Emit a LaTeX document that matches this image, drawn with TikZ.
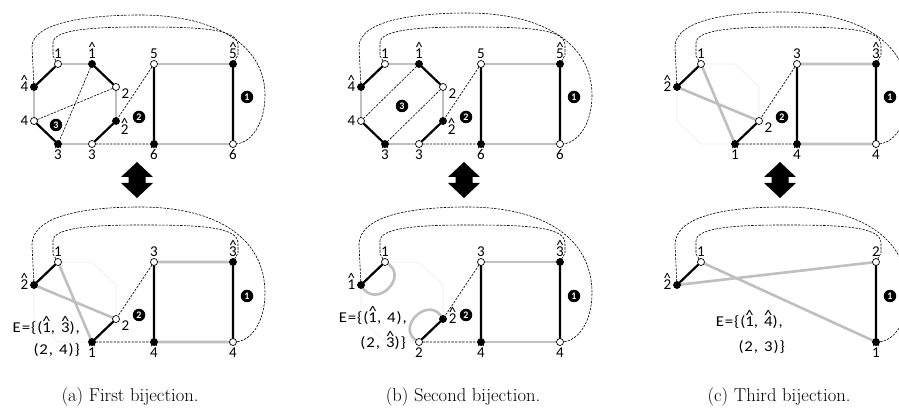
\documentclass[tikz,border=0pt]{standalone}
\usepackage{fontspec}
\newfontfamily\lbf{Carlito}
\newfontfamily\etf[LetterSpace=6,FakeStretch=1.12]{Carlito}
\newcommand\hd[1]{\ooalign{#1\cr\hidewidth\smash{\raisebox{0.4em}{\char"5E}}\hidewidth\cr}}
\newcommand\esp{\hspace{6pt}}
\pgfdeclarelayer{bg}
\pgfsetlayers{bg,main}
\tikzset{
  vtx/.style={circle, draw=black, line width=0.7pt, minimum size=7pt, inner sep=0pt},
  wv/.style={vtx, fill=white},
  bv/.style={vtx, fill=black},
  lab/.style={font=\lbf\fontsize{15}{15}\selectfont, inner sep=0.5pt},
  etxt/.style={font=\etf\fontsize{15}{15}\selectfont, inner sep=0pt},
  gedge/.style={draw=gray!50, line width=2.6pt},
  bedge/.style={draw=black, line width=2.2pt},
  dedge/.style={draw=black, line width=0.6pt, dash pattern=on 2.4pt off 1.2pt},
  ghostline/.style={draw=gray!15, line width=0.6pt},
  badge/.style={circle, fill=black, text=white, minimum size=12.5pt, inner sep=0pt, font=\lbf\bfseries\fontsize{10}{10}\selectfont},
  captxt/.style={font=\fontsize{18.6}{22}\selectfont, inner sep=0pt},
  every label/.style={lab},
  label distance=1.2pt
}
% dashed outer and inner loops, in the frame of panel (a)
\newcommand\dloops[5]{%
  \draw[dedge] (#1.center) -- (32,47) .. controls (32,{#5+7}) and (90,#5) .. (140,#5)
     .. controls (215,#5) and (265,{#5+30}) .. (265,95) .. controls (265,125) and (250,145) .. (#2.center);
  \draw[dedge] (#3.center) -- (53,56) -- (53,43) .. controls (53,30) and (90,27) .. (140,27)
     .. controls (195,27) and (238,28) .. (238,45) -- (238,55) -- (#4.center);
}
\newcommand\ghostoct{%
  \draw[ghostline] (58,64)--(92,64)--(116,87)--(116,121)--(92,144)--(58,144)--(34,121)--(34,87)--cycle;}
\newcommand\dblarrow[1]{%
  \fill[black] (#1,162) -- (#1+16,177) -- (#1+8.5,177) -- (#1+8.5,183) -- (#1+16,183) -- (#1,198)
     -- (#1-16,183) -- (#1-8.5,183) -- (#1-8.5,177) -- (#1-16,177) -- cycle;}
\begin{document}
\begin{tikzpicture}[x=1pt, y=-1pt]
\clip (0,0) rectangle (899,419);

% ---------------- top (a)
\begin{scope}
\node[wv,label={above:1}] (A1) at (58,64) {};
\node[bv,label={above:\hd{1}}] (A1h) at (92,64) {};
\node[wv,label={-15:2}] (A2) at (116,87) {};
\node[bv,label={-35:\hd{2}}] (A2h) at (116,121) {};
\node[wv,label={below:3}] (A3) at (92,144) {};
\node[bv,label={below:\hd{3}}] (A3h) at (58,144) {};
\node[wv,label={left:4}] (A4) at (34,121) {};
\node[bv,label={left:\hd{4}}] (A4h) at (34,87) {};
\node[wv,label={above:5}] (A5) at (154,64) {};
\node[bv,label={above:\hd{5}}] (A5h) at (233,64) {};
\node[bv,label={below:\hd{6}}] (A6h) at (154,144) {};
\node[wv,label={below:6}] (A6) at (233,144) {};
\node[badge] (Ab1) at (247,97) {1};
\node[badge] (Ab2) at (139,117) {2};
\node[badge] (Ab3) at (56,125) {3};
\begin{pgfonlayer}{bg}
\draw[gedge] (A1.center)--(A1h.center) (A2.center)--(A2h.center) (A3.center)--(A3h.center)
  (A4.center)--(A4h.center) (A5.center)--(A5h.center) (A6h.center)--(A6.center);
\draw[bedge] (A1.center)--(A4h.center) (A1h.center)--(A2.center) (A2h.center)--(A3.center)
  (A3h.center)--(A4.center) (A5.center)--(A6h.center) (A5h.center)--(A6.center);
\draw[dedge] (A1h.center)--(A3h.center) (A2.center)--(A4.center) (A5.center)--(A2h.center) (A3.center)--(A6h.center);
\dloops{A4h}{A6}{A1}{A5h}{15}
\end{pgfonlayer}
\end{scope}

% ---------------- top (b)
\begin{scope}[shift={(327,0)}]
\node[wv,label={above:1}] (B1) at (58,64) {};
\node[bv,label={above:\hd{1}}] (B1h) at (92,64) {};
\node[wv,label={-15:2}] (B2) at (116,87) {};
\node[bv,label={-35:\hd{2}}] (B2h) at (116,121) {};
\node[wv,label={below:3}] (B3) at (92,144) {};
\node[bv,label={below:\hd{3}}] (B3h) at (58,144) {};
\node[wv,label={left:4}] (B4) at (34,121) {};
\node[bv,label={left:\hd{4}}] (B4h) at (34,87) {};
\node[wv,label={above:5}] (B5) at (154,64) {};
\node[bv,label={above:\hd{5}}] (B5h) at (233,64) {};
\node[bv,label={below:\hd{6}}] (B6h) at (154,144) {};
\node[wv,label={below:6}] (B6) at (233,144) {};
\node[badge] (Bb1) at (247,97) {1};
\node[badge] (Bb2) at (139,117) {2};
\node[badge] (Bb3) at (75,106) {3};
\begin{pgfonlayer}{bg}
\draw[gedge] (B1.center)--(B1h.center) (B2.center)--(B2h.center) (B3.center)--(B3h.center)
  (B4.center)--(B4h.center) (B5.center)--(B5h.center) (B6h.center)--(B6.center);
\draw[bedge] (B1.center)--(B4h.center) (B1h.center)--(B2.center) (B2h.center)--(B3.center)
  (B3h.center)--(B4.center) (B5.center)--(B6h.center) (B5h.center)--(B6.center);
\draw[dedge] (B1h.center)--(B4.center) (B2.center)--(B3h.center) (B5.center)--(B2h.center) (B3.center)--(B6h.center);
\dloops{B4h}{B6}{B1}{B5h}{13}
\end{pgfonlayer}
\end{scope}

% ---------------- top (c)
\begin{scope}[shift={(643,0)}]
\node[wv,label={above:1}] (C1) at (58,64) {};
\node[bv,label={left:\hd{2}}] (C2h) at (34,87) {};
\node[wv,label={-15:2}] (C2) at (116,121) {};
\node[bv,label={below:\hd{1}}] (C1h) at (92,144) {};
\node[wv,label={above:3}] (C3) at (154,64) {};
\node[bv,label={above:\hd{3}}] (C3h) at (233,64) {};
\node[bv,label={below:\hd{4}}] (C4h) at (154,144) {};
\node[wv,label={below:4}] (C4) at (233,144) {};
\node[badge] (Cb1) at (247,97) {1};
\node[badge] (Cb2) at (139,117) {2};
\begin{pgfonlayer}{bg}
\ghostoct
\draw[gedge] (C1.center)--(C1h.center) (C2h.center)--(C2.center) (C3.center)--(C3h.center) (C4h.center)--(C4.center);
\draw[bedge] (C1.center)--(C2h.center) (C2.center)--(C1h.center) (C3.center)--(C4h.center) (C3h.center)--(C4.center);
\draw[dedge] (C3.center)--(C2.center) (C1h.center)--(C4h.center);
\dloops{C2h}{C4}{C1}{C3h}{12}
\end{pgfonlayer}
\end{scope}

% ---------------- bottom (a)
\begin{scope}[shift={(0,198)}]
\node[wv,label={above:1}] (D1) at (58,64) {};
\node[bv,label={left:\hd{2}}] (D2h) at (34,87) {};
\node[wv,label={-15:2}] (D2) at (116,121) {};
\node[bv,label={below:\hd{1}}] (D1h) at (92,144) {};
\node[wv,label={above:3}] (D3) at (154,64) {};
\node[bv,label={above:\hd{3}}] (D3h) at (233,64) {};
\node[bv,label={below:\hd{4}}] (D4h) at (154,144) {};
\node[wv,label={below:4}] (D4) at (233,144) {};
\node[badge] (Db1) at (247,98) {1};
\node[badge] (Db2) at (139,117) {2};
\node[etxt,anchor=east] (DE1) at (80,130) {E=\{(\hd{1},\esp\hd{3}),};
\node[etxt,anchor=east] (DE2) at (80,152) {(2,\esp4)\}};
\begin{pgfonlayer}{bg}
\ghostoct
\draw[gedge] (D1.center)--(D1h.center) (D2h.center)--(D2.center) (D3.center)--(D3h.center) (D4h.center)--(D4.center);
\draw[bedge] (D1.center)--(D2h.center) (D2.center)--(D1h.center) (D3.center)--(D4h.center) (D3h.center)--(D4.center);
\draw[dedge] (D3.center)--(D2.center) (D1h.center)--(D4h.center);
\dloops{D2h}{D4}{D1}{D3h}{9}
\end{pgfonlayer}
\end{scope}

% ---------------- bottom (b)
\begin{scope}[shift={(327,198)}]
\node[wv,label={above:1}] (E1) at (58,64) {};
\node[bv,label={left:\hd{1}}] (E1h) at (34,87) {};
\node[bv,label={right:\hd{2}}] (E2h) at (116,121) {};
\node[wv,label={below:2}] (E2) at (92,144) {};
\node[wv,label={above:3}] (E3) at (154,64) {};
\node[bv,label={above:\hd{3}}] (E3h) at (233,64) {};
\node[bv,label={below:\hd{4}}] (E4h) at (154,144) {};
\node[wv,label={below:4}] (E4) at (233,144) {};
\node[badge] (Eb1) at (247,98) {1};
\node[badge] (Eb2) at (139,117) {2};
\node[etxt,anchor=east] (EE1) at (80,120) {E=\{(\hd{1},\esp4),};
\node[etxt,anchor=east] (EE2) at (79,145) {(2,\esp\hd{3})\}};
\begin{pgfonlayer}{bg}
\ghostoct
\draw[gedge] (E1.center) .. controls (85,77) and (48,114) .. (E1h.center);
\draw[gedge] (E2.center) .. controls (65.5,131.5) and (102.5,94.5) .. (E2h.center);
\draw[gedge] (E3.center)--(E3h.center) (E4h.center)--(E4.center);
\draw[bedge] (E1.center)--(E1h.center) (E2.center)--(E2h.center) (E3.center)--(E4h.center) (E3h.center)--(E4.center);
\draw[dedge] (E3.center)--(E2h.center) (E2.center)--(E4h.center);
\dloops{E1h}{E4}{E1}{E3h}{9}
\end{pgfonlayer}
\end{scope}

% ---------------- bottom (c)
\begin{scope}[shift={(643,198)}]
\node[wv,label={above:1}] (F1) at (58,64) {};
\node[bv,label={left:\hd{2}}] (F2h) at (34,87) {};
\node[wv,label={above:2}] (F2) at (233,64) {};
\node[bv,label={below:\hd{1}}] (F1h) at (233,144) {};
\node[badge] (Fb1) at (247,98) {1};
\node[etxt,anchor=east] (FE1) at (140,124) {E=\{(\hd{1},\esp\hd{4}),};
\node[etxt,anchor=east] (FE2) at (142,149) {(2,\esp3)\}};
\begin{pgfonlayer}{bg}
\draw[gedge] (F1.center)--(F1h.center) (F2h.center)--(F2.center);
\draw[bedge] (F1.center)--(F2h.center) (F2.center)--(F1h.center);
\dloops{F2h}{F1h}{F1}{F2}{9}
\end{pgfonlayer}
\end{scope}

% ---------------- double arrows
\dblarrow{137}
\dblarrow{464}
\dblarrow{780}

% ---------------- captions
\node[captxt] (capa) at (130,397) {(a) First bijection.};
\node[captxt] (capb) at (463,397) {(b) Second bijection.};
\node[captxt] (capc) at (779,397) {(c) Third bijection.};
\end{tikzpicture}
\end{document}
